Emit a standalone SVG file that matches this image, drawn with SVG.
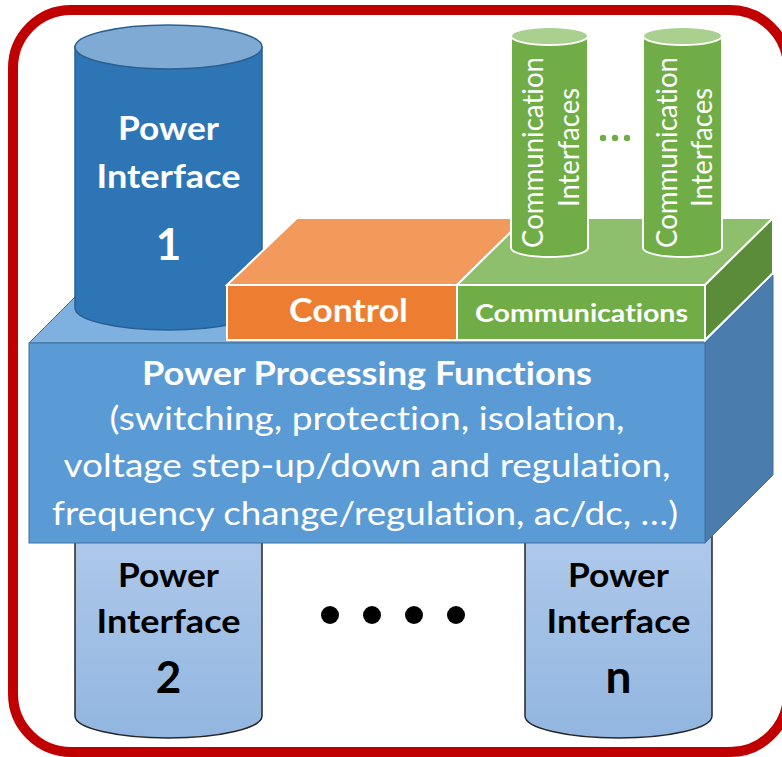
<svg xmlns="http://www.w3.org/2000/svg" width="782" height="757" viewBox="0 0 782 757">
<defs>
<linearGradient id="lg" x1="0" y1="0" x2="0" y2="1">
<stop offset="0" stop-color="#AFC9EA"/>
<stop offset="1" stop-color="#92B6E0"/>
</linearGradient>
<style>
text{font-variant-ligatures:none;font-feature-settings:"liga" 0,"clig" 0;}
.w{fill:#fff;font-family:Lato,"Open Sans",sans-serif;}
.k{fill:#000;font-family:Lato,"Open Sans",sans-serif;font-weight:bold;}
.b{font-weight:bold;}
.m{text-anchor:middle;}
.bx{stroke:#41719C;stroke-width:1;}
.ws{stroke:#fff;stroke-width:2;}
</style>
</defs>
<rect x="13" y="10" width="775" height="742" rx="58" ry="58" fill="#fff" stroke="#C00000" stroke-width="10"/>

<g id="power-interface-2">
<path d="M75,530 L75,716 A93.5,22 0 0 0 262,716 L262,530 Z" fill="url(#lg)" stroke="#262626" stroke-width="1.5"/>
<text class="k m" x="168.5" y="587" font-size="32" textLength="101" lengthAdjust="spacingAndGlyphs">Power</text>
<text class="k m" x="168.5" y="633" font-size="32" textLength="144" lengthAdjust="spacingAndGlyphs">Interface</text>
<text class="k m" x="168.5" y="693" font-size="44">2</text>
</g>
<g id="power-interface-n">
<path d="M525,530 L525,716 A93.5,22 0 0 0 712,716 L712,530 Z" fill="url(#lg)" stroke="#262626" stroke-width="1.5"/>
<text class="k m" x="618.5" y="587" font-size="32" textLength="101" lengthAdjust="spacingAndGlyphs">Power</text>
<text class="k m" x="618.5" y="633" font-size="32" textLength="144" lengthAdjust="spacingAndGlyphs">Interface</text>
<text class="k m" x="618.5" y="693" font-size="46">n</text>
</g>
<g id="ellipsis-dots" fill="#000">
<circle cx="330" cy="615" r="9"/>
<circle cx="372" cy="615" r="9"/>
<circle cx="414" cy="615" r="9"/>
<circle cx="456" cy="615" r="9"/>
</g>

<g id="power-processing">
<polygon class="bx" points="29,343 97,275 773,275 705,343" fill="#7EB1E0"/>
<polygon class="bx" points="705,343 773,275 773,475 705,543" fill="#4A7DAE"/>
<rect class="bx" x="29" y="343" width="676" height="200" fill="#5B9BD5"/>
<text class="w b m" x="367" y="385" font-size="32" textLength="450" lengthAdjust="spacingAndGlyphs">Power Processing Functions</text>
<text class="w m" x="367" y="430" font-size="32" textLength="515" lengthAdjust="spacingAndGlyphs">(switching, protection, isolation,</text>
<text class="w m" x="367" y="477" font-size="32" textLength="607" lengthAdjust="spacingAndGlyphs">voltage step-up/down and regulation,</text>
<text class="w m" x="365" y="525" font-size="32" textLength="626" lengthAdjust="spacingAndGlyphs">frequency change/regulation, ac/dc, …)</text>
</g>

<g id="power-interface-1">
<path d="M75,47 L75,308 A93.5,22 0 0 0 262,308 L262,47 Z" fill="#2E75B6" stroke="#2A5F90" stroke-width="1.5"/>
<ellipse cx="168.5" cy="47" rx="93.5" ry="22" fill="#7EAAD3" stroke="#2A5F90" stroke-width="1.5"/>
<text class="w b m" x="168.5" y="140" font-size="32" textLength="101" lengthAdjust="spacingAndGlyphs">Power</text>
<text class="w b m" x="168.5" y="188" font-size="32" textLength="144" lengthAdjust="spacingAndGlyphs">Interface</text>
<text class="w b m" x="168.5" y="260" font-size="44">1</text>
</g>

<g id="control">
<polygon class="ws" points="227,285 297,218 525,218 457,285" fill="#F19A5C"/>
<rect class="ws" x="227" y="285" width="230" height="55" fill="#ED7D31"/>
<text class="w b m" x="348.5" y="322" font-size="32" textLength="119" lengthAdjust="spacingAndGlyphs">Control</text>
</g>

<g id="communications">
<polygon class="ws" points="457,285 525,218 773,218 705,285" fill="#8DBF6C"/>
<polygon class="ws" points="705,285 773,218 773,273 705,340" fill="#5A8C39"/>
<rect class="ws" x="457" y="285" width="248" height="55" fill="#70AD47"/>
<text class="w b m" x="581.5" y="322" font-size="25" textLength="213" lengthAdjust="spacingAndGlyphs">Communications</text>
</g>

<g id="communication-interfaces-a">
<path class="ws" d="M511,36 L511,248 A38.5,9 0 0 0 588,248 L588,36 Z" fill="#70AD47"/>
<ellipse class="ws" cx="549.5" cy="36" rx="38.5" ry="9" fill="#A9D08E"/>
<text class="w m" transform="translate(543,152.5) rotate(-90)" font-size="29" textLength="191" lengthAdjust="spacingAndGlyphs">Communication</text>
<text class="w m" transform="translate(579,147.5) rotate(-90)" font-size="29" textLength="119" lengthAdjust="spacingAndGlyphs">Interfaces</text>
</g>
<g id="comm-dots" fill="#70AD47">
<circle cx="603" cy="138" r="3.2"/>
<circle cx="615" cy="138" r="3.2"/>
<circle cx="627" cy="138" r="3.2"/>
</g>
<g id="communication-interfaces-b">
<path class="ws" d="M643,36 L643,248 A39.5,9 0 0 0 722,248 L722,36 Z" fill="#70AD47"/>
<ellipse class="ws" cx="682.5" cy="36" rx="39.5" ry="9" fill="#A9D08E"/>
<text class="w m" transform="translate(677,152.5) rotate(-90)" font-size="29" textLength="191" lengthAdjust="spacingAndGlyphs">Communication</text>
<text class="w m" transform="translate(712,147.5) rotate(-90)" font-size="29" textLength="119" lengthAdjust="spacingAndGlyphs">Interfaces</text>
</g>
<g id="connectors"></g>
</svg>
